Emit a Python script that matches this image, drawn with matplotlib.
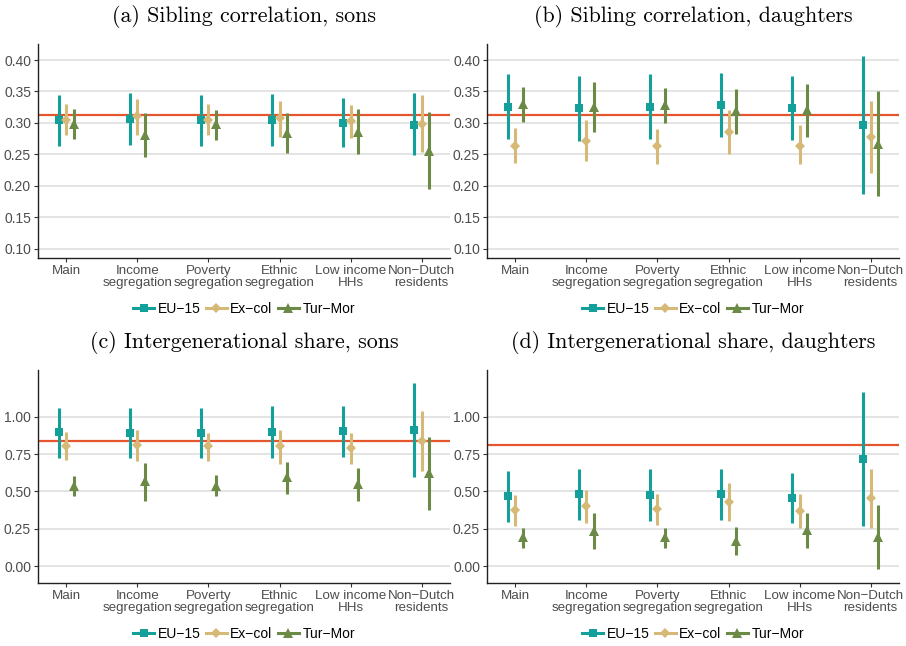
import matplotlib
matplotlib.use("Agg")
import matplotlib.pyplot as plt
from matplotlib.lines import Line2D
import numpy as np

categories = ["Main", "Income\nsegregation", "Poverty\nsegregation", "Ethnic\nsegregation",
              "Low income\nHHs", "Non\u2212Dutch\nresidents"]
groups = ["EU\u221215", "Ex\u2212col", "Tur\u2212Mor"]

# (a) Sibling correlation, sons
a_est = {"EU": [0.304, 0.306, 0.304, 0.304, 0.300, 0.297],
         "EX": [0.305, 0.311, 0.305, 0.308, 0.303, 0.299],
         "TM": [0.299, 0.281, 0.298, 0.284, 0.286, 0.256]}
a_lo = {"EU": [0.264, 0.265, 0.264, 0.264, 0.261, 0.249],
        "EX": [0.281, 0.281, 0.281, 0.278, 0.276, 0.254],
        "TM": [0.275, 0.246, 0.273, 0.252, 0.250, 0.195]}
a_hi = {"EU": [0.345, 0.347, 0.344, 0.346, 0.340, 0.347],
        "EX": [0.330, 0.338, 0.330, 0.335, 0.328, 0.344],
        "TM": [0.322, 0.316, 0.321, 0.316, 0.322, 0.318]}
a_ref = 0.313

# (b) Sibling correlation, daughters
b_est = {"EU": [0.325, 0.323, 0.325, 0.328, 0.324, 0.296],
         "EX": [0.264, 0.271, 0.263, 0.286, 0.264, 0.278],
         "TM": [0.330, 0.325, 0.328, 0.319, 0.321, 0.267]}
b_lo = {"EU": [0.274, 0.271, 0.274, 0.277, 0.273, 0.187],
        "EX": [0.236, 0.239, 0.235, 0.251, 0.234, 0.221],
        "TM": [0.301, 0.285, 0.300, 0.283, 0.278, 0.184]}
b_hi = {"EU": [0.378, 0.374, 0.378, 0.380, 0.375, 0.406],
        "EX": [0.292, 0.304, 0.291, 0.320, 0.296, 0.335],
        "TM": [0.357, 0.365, 0.356, 0.354, 0.362, 0.351]}
b_ref = 0.313

# (c) Intergenerational share, sons
c_est = {"EU": [0.895, 0.893, 0.893, 0.900, 0.902, 0.908],
         "EX": [0.806, 0.808, 0.801, 0.801, 0.788, 0.839],
         "TM": [0.538, 0.567, 0.538, 0.594, 0.547, 0.625]}
c_lo = {"EU": [0.725, 0.725, 0.725, 0.725, 0.732, 0.594],
        "EX": [0.710, 0.705, 0.705, 0.685, 0.685, 0.636],
        "TM": [0.469, 0.433, 0.469, 0.484, 0.433, 0.379]}
c_hi = {"EU": [1.060, 1.060, 1.056, 1.069, 1.074, 1.223],
        "EX": [0.900, 0.908, 0.893, 0.913, 0.893, 1.040],
        "TM": [0.603, 0.692, 0.607, 0.699, 0.656, 0.864]}
c_ref = 0.835

# (d) Intergenerational share, daughters
d_est = {"EU": [0.469, 0.480, 0.475, 0.480, 0.458, 0.717],
         "EX": [0.375, 0.402, 0.384, 0.431, 0.371, 0.453],
         "TM": [0.196, 0.237, 0.196, 0.167, 0.241, 0.196]}
d_lo = {"EU": [0.297, 0.306, 0.301, 0.306, 0.288, 0.270],
        "EX": [0.272, 0.290, 0.279, 0.301, 0.257, 0.257],
        "TM": [0.125, 0.112, 0.125, 0.076, 0.121, -0.016]}
d_hi = {"EU": [0.636, 0.652, 0.647, 0.652, 0.625, 1.163],
        "EX": [0.478, 0.511, 0.484, 0.558, 0.482, 0.650],
        "TM": [0.259, 0.359, 0.259, 0.261, 0.359, 0.411]}
d_ref = 0.810

titles = ["(a) Sibling correlation, sons", "(b) Sibling correlation, daughters",
          "(c) Intergenerational share, sons", "(d) Intergenerational share, daughters"]

keys = ["EU", "EX", "TM"]
colors = {"EU": "#13a09a", "EX": "#d6b877", "TM": "#6b8a45"}
markers = {"EU": "s", "EX": "D", "TM": "^"}
msizes = {"EU": 6.3, "EX": 5.3, "TM": 7.3}
offsets = {"EU": -0.1, "EX": 0.0, "TM": 0.1}
refcol = "#e4572e"

W, H = 906, 646
fig = plt.figure(figsize=(W / 100, H / 100), dpi=100)

def ax_at(l, t, r, b):
    return fig.add_axes([l / W, 1 - b / H, (r - l) / W, (b - t) / H])

top_ticks = [0.10, 0.15, 0.20, 0.25, 0.30, 0.35, 0.40]
top_labels = ["0.10", "0.15", "0.20", "0.25", "0.30", "0.35", "0.40"]
bot_ticks = [0.0, 0.25, 0.5, 0.75, 1.0]
bot_labels = ["0.00", "0.25", "0.50", "0.75", "1.00"]

panels = [
    ((38, 44, 450, 258), a_est, a_lo, a_hi, a_ref, (0.085, 0.4255), top_ticks, top_labels, 17, 309),
    ((487, 44, 899, 258), b_est, b_lo, b_hi, b_ref, (0.085, 0.4255), top_ticks, top_labels, 17, 309),
    ((38, 370, 450, 583), c_est, c_lo, c_hi, c_ref, (-0.112, 1.312), bot_ticks, bot_labels, 343, 634),
    ((487, 370, 899, 583), d_est, d_lo, d_hi, d_ref, (-0.112, 1.312), bot_ticks, bot_labels, 343, 634),
]

x = np.arange(1, len(categories) + 1)
yfont = dict(family="Liberation Sans", size=10, color="#4d4d4d")
xfont = dict(family="Liberation Sans", size=9.6, color="#4d4d4d")

for i, (box, est, lo, hi, ref, ylim, yt, ytl, ty, ly) in enumerate(panels):
    ax = ax_at(*box)
    for yv in yt:
        ax.axhline(yv, color="#dcdcdc", lw=1.1, zorder=0)
    ax.axhline(ref, color=refcol, lw=1.6, zorder=1)
    for k in keys:
        e = np.array(est[k]); l = np.array(lo[k]); h = np.array(hi[k])
        ax.errorbar(x + offsets[k], e, yerr=[e - l, h - e], fmt=markers[k],
                    color=colors[k], ecolor=colors[k], elinewidth=2.2,
                    capsize=1.8, capthick=2.2, markersize=msizes[k],
                    markeredgewidth=0, zorder=3)
    ax.set_xlim(0.6, 6.4)
    ax.set_ylim(*ylim)
    ax.set_yticks(yt)
    ax.set_yticklabels(ytl, fontdict=yfont)
    ax.set_xticks(x)
    ax.set_xticklabels(categories, fontdict=xfont, linespacing=1.0)
    for s in ["top", "right"]:
        ax.spines[s].set_visible(False)
    for s in ["left", "bottom"]:
        ax.spines[s].set_color("#222222")
        ax.spines[s].set_linewidth(1.0)
    ax.tick_params(axis="both", length=3, width=0.8, color="#333333", pad=2)
    cx = (box[0] + box[2]) / 2 / W
    fig.text(cx, 1 - ty / H, titles[i], fontfamily="cmr10", fontsize=15.8,
             ha="center", va="center")
    handles = [Line2D([], [], color=colors[k], marker=markers[k], lw=2.2,
                      markersize=msizes[k], markeredgewidth=0) for k in keys]
    fig.legend(handles, groups, loc="center", bbox_to_anchor=(cx, 1 - ly / H),
               ncol=3, frameon=False, handlelength=1.5, handletextpad=0.25,
               columnspacing=0.4, borderpad=0.1,
               prop={"family": "Liberation Sans", "size": 10})

fig.savefig("out.png", dpi=100)
